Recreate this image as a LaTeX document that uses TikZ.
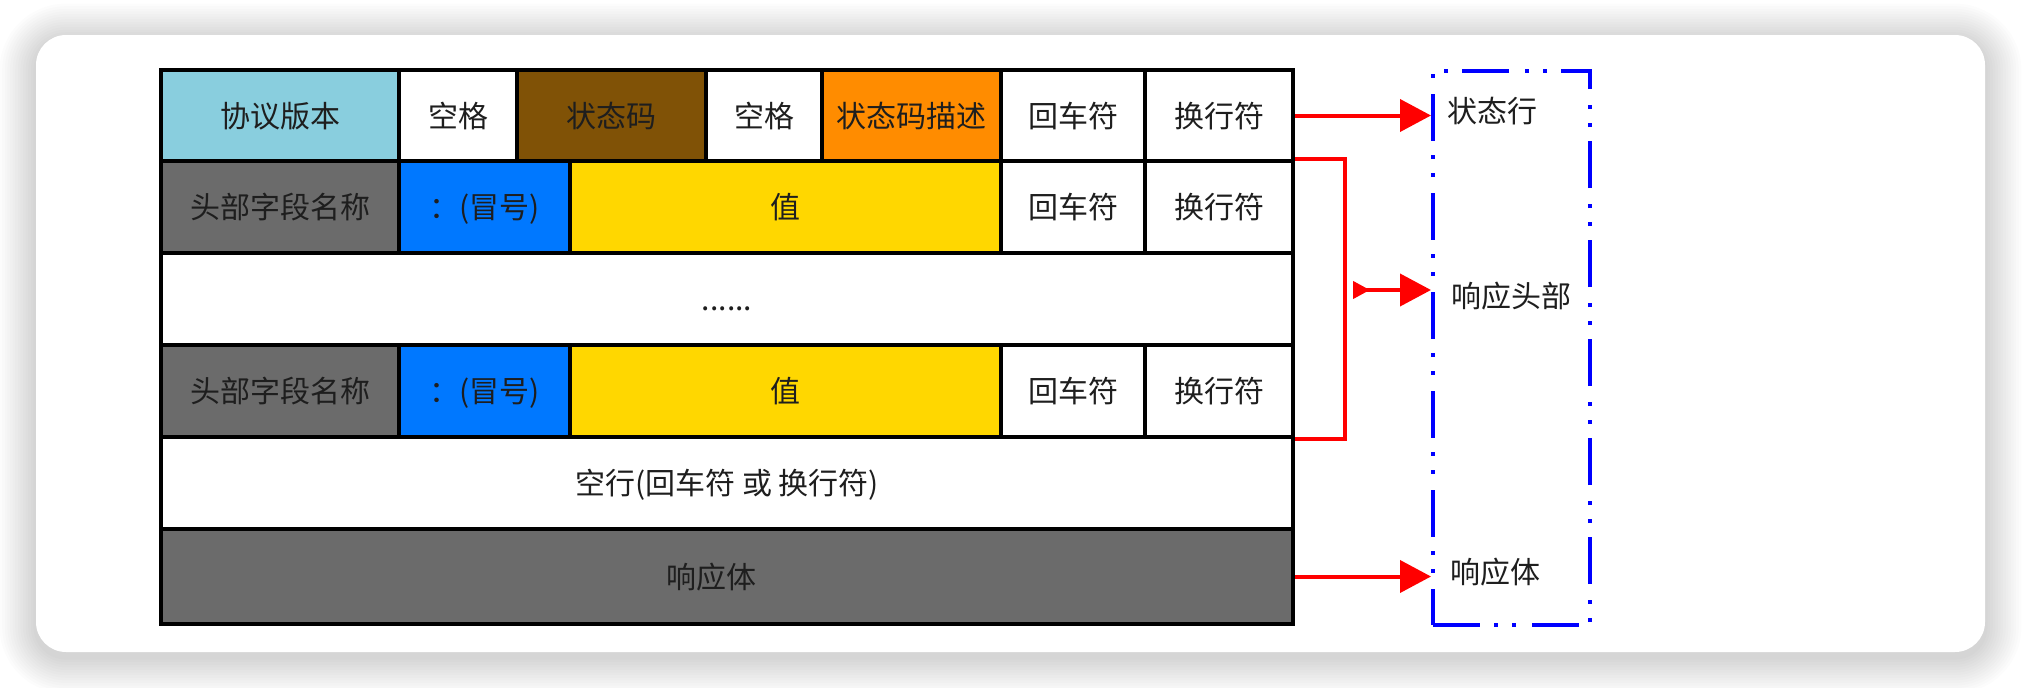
\documentclass[tikz,border=0pt]{standalone}
\usepackage{fontspec}
\setmainfont{Noto Sans CJK SC}
\usetikzlibrary{arrows.meta,calc}

\definecolor{cLightBlue}{RGB}{137,206,222}
\definecolor{cBrown}{RGB}{128,82,6}
\definecolor{cOrange}{RGB}{255,140,0}
\definecolor{cGray}{RGB}{107,107,107}
\definecolor{cBlue}{RGB}{0,120,255}
\definecolor{cGold}{RGB}{255,215,0}
\definecolor{cText}{RGB}{30,30,30}
\definecolor{cRed}{RGB}{255,0,0}
\definecolor{cDash}{RGB}{0,0,255}

\begin{document}
\begin{tikzpicture}[x=1pt,y=-1pt,
  cell/.style={draw=black, line width=4pt, inner sep=0pt, fill=white,
    font=\fontsize{30}{36}\selectfont, text=cText,
    text height=26pt, text depth=3pt},
  lbl/.style={inner sep=0pt, anchor=west, font=\fontsize{30}{36}\selectfont,
    text=cText, text height=26pt, text depth=3pt},
  redline/.style={draw=cRed, line width=4pt},
  redarrow/.style={redline, -{Triangle[length=31pt,width=32pt]}},
  redtail/.style={redline, {Triangle[reversed,length=17pt,width=17pt]}-{Triangle[length=31pt,width=32pt]}},
  group/.style={draw=cDash, line width=4pt, inner sep=0pt,
    dash pattern=on 47pt off 14pt on 4pt off 14pt on 4pt off 16pt}
]
\useasboundingbox (0,0) rectangle (2022,688);
\fill[white] (0,0) rectangle (2022,688);

% card shadow
\foreach \i in {1,...,14}{
  \pgfmathsetmacro\shd{\i*2.6}
  \pgfmathsetmacro\shr{30+\shd}
  \fill[black, opacity=0.013, rounded corners=\shr pt]
    (36-\shd, 35-\shd+5) rectangle (1985+\shd, 652+\shd+5);
}
\fill[white, rounded corners=30pt] (36,35) rectangle (1985,652);

% row 0 : status line
\node[cell, fill=cLightBlue, minimum width=238, minimum height=91] (r0a) at (280,115.5) {协议版本};
\node[cell, minimum width=118, minimum height=91] (r0b) at (458,115.5) {空格};
\node[cell, fill=cBrown, minimum width=189, minimum height=91] (r0c) at (611.5,115.5) {状态码};
\node[cell, minimum width=116, minimum height=91] (r0d) at (764,115.5) {空格};
\node[cell, fill=cOrange, minimum width=179, minimum height=91] (r0e) at (911.5,115.5) {状态码描述};
\node[cell, minimum width=144, minimum height=91] (r0f) at (1073,115.5) {回车符};
\node[cell, minimum width=148, minimum height=91] (r0g) at (1219,115.5) {换行符};

% row 1 : header
\node[cell, fill=cGray, minimum width=238, minimum height=92] (r1a) at (280,207) {头部字段名称};
\node[cell, fill=cBlue, minimum width=171, minimum height=92] (r1b) at (484.5,207) {：(冒号)};
\node[cell, fill=cGold, minimum width=431, minimum height=92] (r1c) at (785.5,207) {值};
\node[cell, minimum width=144, minimum height=92] (r1d) at (1073,207) {回车符};
\node[cell, minimum width=148, minimum height=92] (r1e) at (1219,207) {换行符};

% row 2 : dots
\node[cell, minimum width=1132, minimum height=92] (r2) at (727,299) {......};

% row 3 : header
\node[cell, fill=cGray, minimum width=238, minimum height=92] (r3a) at (280,391) {头部字段名称};
\node[cell, fill=cBlue, minimum width=171, minimum height=92] (r3b) at (484.5,391) {：(冒号)};
\node[cell, fill=cGold, minimum width=431, minimum height=92] (r3c) at (785.5,391) {值};
\node[cell, minimum width=144, minimum height=92] (r3d) at (1073,391) {回车符};
\node[cell, minimum width=148, minimum height=92] (r3e) at (1219,391) {换行符};

% row 4 : empty line
\node[cell, minimum width=1132, minimum height=92] (r4) at (727,483) {空行(回车符 或 换行符)};

% row 5 : body
\node[cell, fill=cGray, minimum width=1132, minimum height=95] (r5) at (727,576.5) {响应体\hspace*{32pt}};

% group box and labels
\node[group, minimum width=157, minimum height=554] (grp) at (1511.5,348) {};
\node[lbl] (lsl) at (1447,111) {状态行};
\node[lbl] (lhd) at (1451,296) {响应头部};
\node[lbl] (lbd) at (1450,572) {响应体};

% connectors
\draw[redarrow] (r0g.east) -- (r0g.east -| grp.west);
\draw[redline] (r1e.north east) -- ++(50,0) |- (r3e.south east);
\coordinate (hs) at (1353,290);
\draw[redtail] (hs) -- (hs -| grp.west);
\draw[redarrow] (r5.east) -- (r5.east -| grp.west);
\end{tikzpicture}
\end{document}
